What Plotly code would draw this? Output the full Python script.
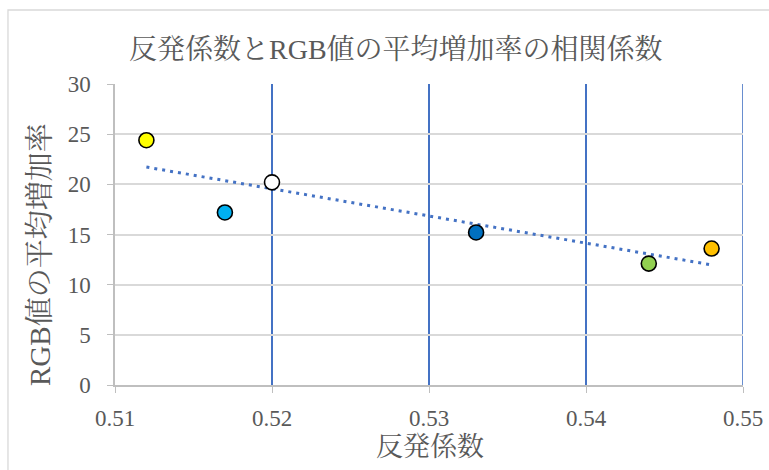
import numpy as np
import plotly.graph_objects as go

# Restitution coefficient vs. mean RGB increase rate
restitution = [0.512, 0.517, 0.520, 0.533, 0.544, 0.548]
rgb_increase = [24.4, 17.2, 20.2, 15.2, 12.1, 13.6]
point_colors = ["#FFFF00", "#00B0F0", "#FFFFFF", "#0070C0", "#92D050", "#FFC000"]

x_ticks = [0.51, 0.52, 0.53, 0.54, 0.55]
x_tick_text = ["0.51", "0.52", "0.53", "0.54", "0.55"]
y_ticks = [0, 5, 10, 15, 20, 25, 30]

title_text = "反発係数とRGB値の平均増加率の相関係数"
x_title = "反発係数"
y_title = "RGB値の平均増加率"

# Linear least-squares trendline over the data range
slope, intercept = np.polyfit(restitution, rgb_increase, 1)
trend_x = np.linspace(min(restitution), max(restitution), 50)
trend_y = slope * trend_x + intercept

FONT = "Liberation Serif, Noto Serif CJK JP, Noto Sans CJK JP, serif"
TEXT = "#595959"
GRID_BLUE = "#4472C4"

fig = go.Figure()
fig.add_trace(go.Scatter(
    x=trend_x, y=trend_y, mode="lines",
    line=dict(color=GRID_BLUE, width=3, dash="3px,5px"),
    hoverinfo="skip", showlegend=False,
))
fig.add_trace(go.Scatter(
    x=restitution, y=rgb_increase, mode="markers",
    marker=dict(size=15, color=point_colors, line=dict(color="#000000", width=1.6)),
    showlegend=False,
))

fig.update_layout(
    width=769, height=470,
    margin=dict(l=115, r=26, t=84, b=85),
    paper_bgcolor="white", plot_bgcolor="white",
    font=dict(family=FONT, color=TEXT),
    xaxis=dict(
        range=[x_ticks[0], x_ticks[-1]], tickvals=x_ticks, ticktext=x_tick_text,
        showgrid=True, gridcolor=GRID_BLUE, gridwidth=1.6,
        showline=True, linecolor="#BFBFBF", linewidth=1.5,
        ticks="outside", ticklen=6, tickcolor="#BFBFBF",
        tickfont=dict(size=23, family=FONT, color=TEXT),
        ticklabelstandoff=6, zeroline=False, automargin=False,
        ticklabeloverflow="allow",
    ),
    yaxis=dict(
        range=[y_ticks[0], y_ticks[-1]], tickvals=y_ticks,
        showgrid=True, gridcolor="#D9D9D9", gridwidth=1.6,
        showline=True, linecolor="#BFBFBF", linewidth=1.5,
        ticks="outside", ticklen=6, tickcolor="#BFBFBF",
        tickfont=dict(size=23, family=FONT, color=TEXT),
        ticklabelstandoff=12, zeroline=False, automargin=False,
        ticklabeloverflow="allow",
    ),
)

# vertical gridline at the right edge of the x range
fig.add_shape(type="line", xref="x", yref="paper",
              x0=x_ticks[-1], x1=x_ticks[-1], y0=0, y1=1,
              line=dict(color=GRID_BLUE, width=1.6), layer="below")

# chart border
fig.add_shape(type="rect", xref="paper", yref="paper",
              x0=-0.1704, x1=1.2, y0=-0.6, y1=1.2458,
              line=dict(color="#D9D9D9", width=1.3), fillcolor="rgba(0,0,0,0)",
              layer="below")

fig.add_annotation(text=title_text, xref="paper", yref="paper",
                   x=0.4475, y=1.113, showarrow=False,
                   xanchor="center", yanchor="middle",
                   font=dict(size=28, family=FONT, color=TEXT))
fig.add_annotation(text=x_title, xref="paper", yref="paper",
                   x=0.502, y=-0.206, showarrow=False,
                   xanchor="center", yanchor="middle",
                   font=dict(size=27, family=FONT, color=TEXT))
fig.add_annotation(text=y_title, xref="paper", yref="paper",
                   x=-0.1194, y=0.432, showarrow=False, textangle=-90,
                   xanchor="center", yanchor="middle",
                   font=dict(size=29, family=FONT, color=TEXT))

fig.write_html("out.html")
